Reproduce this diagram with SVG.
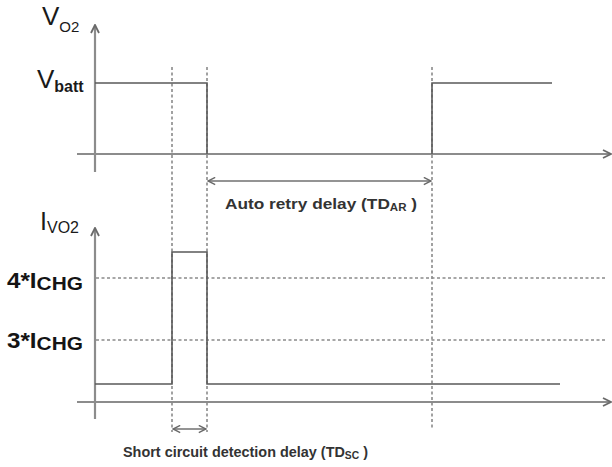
<svg xmlns="http://www.w3.org/2000/svg" width="612" height="467" viewBox="0 0 612 467">
<defs>
<style>
.axis{stroke:#8c8c8c;stroke-width:2.2;fill:none}
.sig{stroke:#5a5a5a;stroke-width:1.6;fill:none}
.dash{stroke:#8a8a8a;stroke-width:1.6;stroke-dasharray:3 2.5;fill:none}
.dim{stroke:#707070;stroke-width:1.3;fill:none}
.lbl{font-family:"Liberation Sans",Arial,sans-serif;fill:#1a1a1a}
.blbl{font-family:"Liberation Sans",Arial,sans-serif;font-weight:bold;fill:#141414}
.note{font-family:"Liberation Sans",Arial,sans-serif;fill:#333333;font-weight:bold}
</style>
<marker id="open" viewBox="0 0 10 10" refX="9" refY="5" markerWidth="9" markerHeight="9" markerUnits="userSpaceOnUse" orient="auto-start-reverse">
<path d="M1,1 L9,5 L1,9" fill="none" stroke="#6a6a6a" stroke-width="1.6"/>
</marker>
<marker id="axarr" viewBox="0 0 10 10" refX="9" refY="5" markerWidth="10" markerHeight="10" markerUnits="userSpaceOnUse" orient="auto">
<path d="M1,1 L9,5 L1,9" fill="none" stroke="#6a6a6a" stroke-width="1.8"/>
</marker>
</defs>
<rect width="612" height="467" fill="#ffffff"/>

<g id="connectors">
<line class="axis" x1="95" y1="172" x2="95" y2="25" marker-end="url(#axarr)"/>
<line class="axis" x1="77" y1="154" x2="611" y2="154" marker-end="url(#axarr)"/>
<line class="axis" x1="95" y1="419" x2="95" y2="228" marker-end="url(#axarr)"/>
<line class="axis" x1="77" y1="402" x2="611" y2="402" marker-end="url(#axarr)"/>
<line class="dash" x1="172" y1="67" x2="172" y2="432"/>
<line class="dash" x1="207" y1="67" x2="207" y2="432"/>
<line class="dash" x1="432" y1="67" x2="432" y2="430"/>
<line class="dash" x1="96" y1="278" x2="606" y2="278"/>
<line class="dash" x1="96" y1="340" x2="606" y2="340"/>
<polyline class="sig" points="95,83 207,83 207,154"/>
<polyline class="sig" points="432,154 432,83 552,83"/>
<polyline class="sig" points="95,384 172,384 172,252 207,252 207,384 560,384"/>
<line class="dim" x1="208" y1="181" x2="431" y2="181" marker-start="url(#open)" marker-end="url(#open)"/>
<line class="dim" x1="173" y1="429" x2="206" y2="429" marker-start="url(#open)" marker-end="url(#open)"/>
</g>

<g id="label-vo2">
<text class="lbl" x="42" y="25" font-size="26">V<tspan font-size="15" dy="7">O2</tspan></text>
</g>
<g id="label-vbatt">
<text class="lbl" x="37" y="88" font-size="26">V<tspan font-size="16" dy="4" font-weight="bold">batt</tspan></text>
</g>
<g id="label-ivo2">
<text class="lbl" x="40" y="230" font-size="25">I<tspan font-size="16" dy="3">VO2</tspan></text>
</g>
<g id="label-4ichg">
<text class="blbl" x="7" y="288" font-size="22" textLength="76" lengthAdjust="spacingAndGlyphs">4*I<tspan font-size="19" dy="2">CHG</tspan></text>
</g>
<g id="label-3ichg">
<text class="blbl" x="7" y="348" font-size="22" textLength="76" lengthAdjust="spacingAndGlyphs">3*I<tspan font-size="19" dy="2">CHG</tspan></text>
</g>
<g id="label-autoretry">
<text class="note" x="225" y="209" font-size="15" textLength="192" lengthAdjust="spacingAndGlyphs">Auto retry delay (TD<tspan font-size="10" dy="2">AR</tspan><tspan dy="-2"> )</tspan></text>
</g>
<g id="label-shortcircuit">
<text class="note" x="123" y="457" font-size="14" textLength="245" lengthAdjust="spacingAndGlyphs">Short circuit detection delay (TD<tspan font-size="10" dy="2">SC</tspan><tspan dy="-2"> )</tspan></text>
</g>
</svg>
